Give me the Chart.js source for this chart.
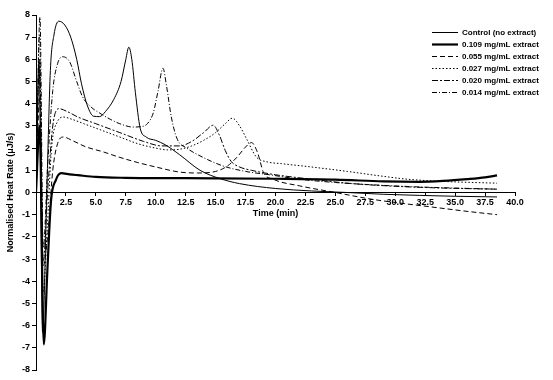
<!DOCTYPE html>
<html>
<head>
<meta charset="utf-8">
<script src="https://cdn.jsdelivr.net/npm/chart.js@4.4.1/dist/chart.umd.min.js"></script>
<style>
  body { margin: 0; background: #fff; }
  #wrap { width: 553px; height: 380px; }
</style>
</head>
<body>
<div id="wrap"><canvas id="heatChart" width="553" height="380"></canvas></div>
<script>
// time (min) and normalised heat rate (uJ/s) per series
const controlT = [0, 0.25, 0.55, 0.9, 1.2, 1.5, 1.9, 2.4, 2.9, 3.4, 3.8, 4.3, 4.8, 5.3, 5.8, 6.5, 7.1, 7.5, 7.75, 8.0, 8.3, 8.7, 9.2, 10.0, 10.8, 12.0, 13.7, 15.4, 17.0, 20.0, 23.0, 26.0, 29.0, 32.0, 35.0, 38.5];
const controlY = [0, 5.9, -6.3, 0, 5.5, 7.1, 7.72, 7.55, 7.0, 6.0, 4.9, 3.9, 3.44, 3.42, 3.65, 4.2, 5.0, 6.0, 6.55, 6.0, 4.5, 2.9, 2.5, 2.35, 2.15, 1.7, 1.0, 0.62, 0.4, 0.18, 0.07, 0.0, -0.08, -0.13, -0.17, -0.2];

const dose109T = [0, 0.3, 0.65, 0.95, 1.25, 1.65, 2.1, 2.8, 3.5, 5.0, 7.5, 10, 15, 20, 25, 29, 32, 34, 36, 37.5, 38.5];
const dose109Y = [0, 3.0, -6.85, -3.5, -0.4, 0.55, 0.87, 0.82, 0.78, 0.7, 0.66, 0.65, 0.64, 0.62, 0.58, 0.5, 0.48, 0.52, 0.6, 0.68, 0.77];

const dose055T = [0, 0.3, 0.6, 1.0, 1.4, 1.8, 2.3, 3.0, 4.2, 5.5, 6.9, 8.5, 10, 12, 13.5, 15, 16, 16.8, 17.5, 18, 18.5, 19, 19.8, 22, 25, 28, 30, 33, 36, 38.5];
const dose055Y = [0, 4.3, -3.3, -1.8, 1.0, 2.2, 2.5, 2.35, 2.05, 1.85, 1.6, 1.35, 1.15, 0.92, 0.88, 0.95, 1.2, 1.6, 2.05, 2.25, 1.8, 0.9, 0.6, 0.3, 0.0, -0.3, -0.45, -0.65, -0.85, -1.0];

const dose027T = [0, 0.3, 0.6, 0.95, 1.3, 1.8, 2.3, 3.0, 4.0, 5.0, 6.0, 7.0, 8.5, 10, 11, 12, 13, 14, 15, 15.8, 16.4, 17.0, 17.6, 18.4, 19.3, 20.5, 23, 26, 28.7, 31, 34, 38.5];
const dose027Y = [0, 7.1, -4.5, -1.5, 2.0, 3.2, 3.4, 3.3, 3.1, 2.9, 2.7, 2.5, 2.2, 2.0, 1.92, 1.95, 2.1, 2.35, 2.7, 3.1, 3.35, 3.0, 2.4, 1.6, 1.38, 1.3, 1.15, 0.95, 0.75, 0.6, 0.5, 0.42];

const dose020T = [0, 0.3, 0.6, 1.0, 1.4, 1.9, 2.6, 3.5, 5.0, 7.0, 9.0, 10.5, 12, 13, 14, 14.8, 15.3, 15.8, 16.3, 17, 18, 20, 23, 26, 30, 34, 38.5];
const dose020Y = [0, 6.0, -3.1, 0.3, 3.0, 3.78, 3.65, 3.4, 3.1, 2.7, 2.3, 2.1, 2.1, 2.3, 2.7, 3.03, 2.6, 1.9, 1.4, 1.15, 1.0, 0.8, 0.6, 0.42, 0.28, 0.2, 0.15];

const dose014T = [0, 0.33, 0.6, 1.0, 1.4, 1.8, 2.2, 2.8, 3.4, 3.9, 4.6, 5.35, 6.2, 7.0, 8.1, 8.8, 9.3, 9.8, 10.2, 10.6, 10.9, 11.3, 11.8, 12.6, 13.7, 15.6, 17.5, 19.5, 22, 25, 28, 32, 35, 38.5];
const dose014Y = [0, 7.9, -2.5, 1.5, 4.6, 5.8, 6.12, 5.9, 5.0, 4.3, 3.85, 3.57, 3.3, 3.1, 2.95, 2.97, 3.1, 3.6, 4.6, 5.6, 4.8, 3.4, 2.4, 2.0, 1.65, 1.2, 0.95, 0.8, 0.6, 0.45, 0.35, 0.25, 0.2, 0.15];

const seriesNames = ['Control (no extract)', '0.109 mg/mL extract', '0.055 mg/mL extract',
    '0.027 mg/mL extract', '0.020 mg/mL extract', '0.014 mg/mL extract'];

function pairs(ts, ys) {
    return ts.map((t, i) => ({ x: t, y: ys[i] }));
}

const FONT = "'Liberation Sans', Arial, sans-serif";

// legend + x title drawn inside the plot, like the original
const extras = {
    id: 'extras',
    afterDraw(chart) {
        const ctx = chart.ctx;
        ctx.save();
        ctx.fillStyle = '#000';
        ctx.font = 'bold 8px ' + FONT;
        ctx.textBaseline = 'middle';
        chart.data.datasets.forEach((ds, i) => {
            const y = 32.5 + i * 12;
            ctx.beginPath();
            ctx.setLineDash(ds.borderDash || []);
            ctx.lineWidth = ds.borderWidth;
            ctx.strokeStyle = '#000';
            ctx.moveTo(432, y);
            ctx.lineTo(458, y);
            ctx.stroke();
            ctx.setLineDash([]);
            ctx.fillText(ds.label, 462, y);
        });
        ctx.font = 'bold 9px ' + FONT;
        ctx.textAlign = 'center';
        ctx.fillText('Time (min)', (chart.chartArea.left + chart.chartArea.right) / 2, 214);
        ctx.restore();
    }
};

const heat = document.getElementById('heatChart');

new Chart(heat, {
    type: 'line',
    data: {
        datasets: [{
            label: seriesNames[0],
            data: pairs(controlT, controlY),
            borderWidth: 1,
        }, {
            label: seriesNames[1],
            data: pairs(dose109T, dose109Y),
            borderWidth: 2.2,
        }, {
            label: seriesNames[2],
            data: pairs(dose055T, dose055Y),
            borderWidth: 1,
            borderDash: [5, 3],
        }, {
            label: seriesNames[3],
            data: pairs(dose027T, dose027Y),
            borderWidth: 1,
            borderDash: [1.5, 2],
        }, {
            label: seriesNames[4],
            data: pairs(dose020T, dose020Y),
            borderWidth: 1,
            borderDash: [6, 2, 2, 2],
        }, {
            label: seriesNames[5],
            data: pairs(dose014T, dose014Y),
            borderWidth: 1,
            borderDash: [5, 2, 1, 2],
        }]
    },
    options: {
        responsive: false,
        animation: false,
        layout: {
            padding: { top: 15, left: 0, right: 38, bottom: 10 }
        },
        elements: {
            line: {
                borderColor: '#000',
                cubicInterpolationMode: 'monotone',
                fill: false,
            },
            point: { radius: 0 }
        },
        plugins: {
            legend: { display: false },
            tooltip: { enabled: false }
        },
        scales: {
            x: {
                type: 'linear',
                position: { y: 0 },
                min: 0,
                max: 40,
                afterFit: (s) => { s.height = 0; },
                ticks: {
                    stepSize: 2.5,
                    autoSkip: false,
                    maxRotation: 0,
                    padding: 2,
                    color: '#000',
                    font: { family: FONT, size: 9, weight: 'bold' },
                    callback: (v) => v === 0 ? '' : v.toFixed(1),
                },
                grid: {
                    drawOnChartArea: false,
                    tickLength: 3,
                    color: '#000',
                },
                border: { color: '#000', width: 1 },
            },
            y: {
                min: -8,
                max: 8,
                afterFit: (s) => { s.width = 36; },
                ticks: {
                    stepSize: 1,
                    padding: 2,
                    color: '#000',
                    font: { family: FONT, size: 9, weight: 'bold' },
                    callback: (v) => String(v),
                },
                grid: {
                    drawOnChartArea: false,
                    tickLength: 4,
                    color: '#000',
                },
                border: { color: '#000', width: 1 },
                title: {
                    display: true,
                    text: 'Normalised Heat Rate (μJ/s)',
                    color: '#000',
                    padding: { top: 5, bottom: 0 },
                    font: { family: FONT, size: 9, weight: 'bold' },
                }
            }
        }
    },
    plugins: [extras]
});
</script>
</body>
</html>
